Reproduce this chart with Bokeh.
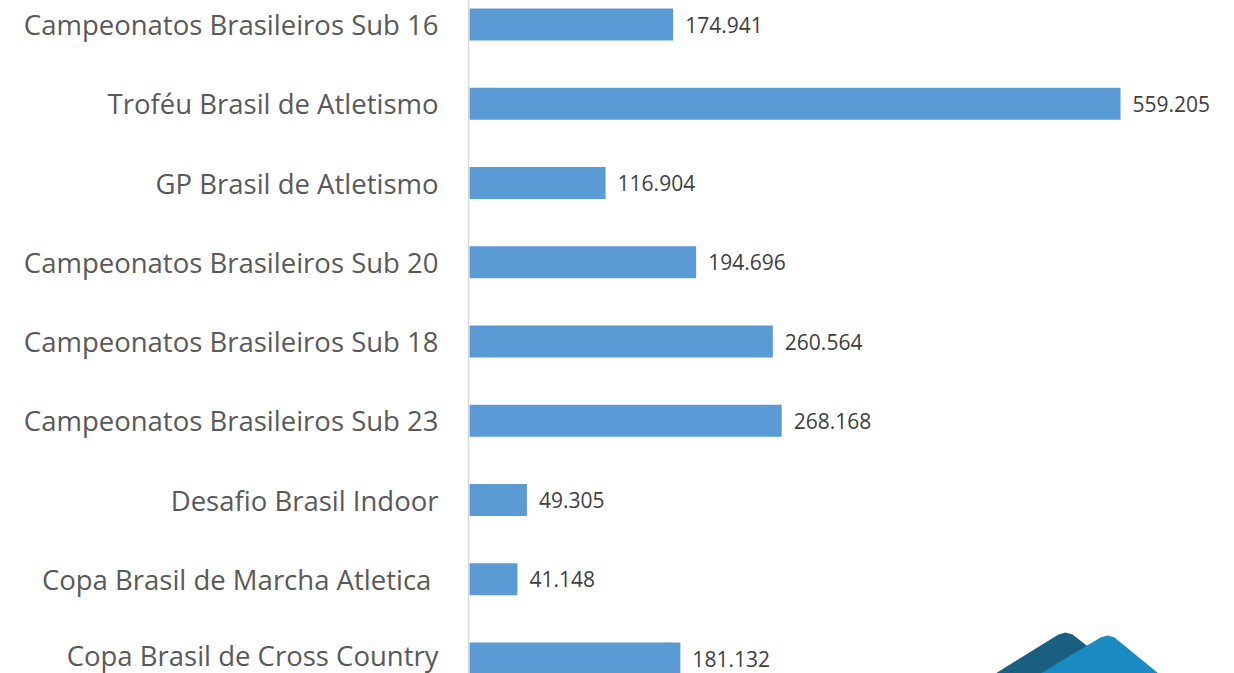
from bokeh.plotting import figure
from bokeh.models import Range1d, FixedTicker, ColumnDataSource, LinearAxis
from bokeh.embed import file_html
from bokeh.resources import INLINE
from bokeh.core.properties import value

# Data (top to bottom as in the chart)
categories = [
    "Campeonatos Brasileiros Sub 16",
    "Troféu Brasil de Atletismo",
    "GP Brasil de Atletismo",
    "Campeonatos Brasileiros Sub 20",
    "Campeonatos Brasileiros Sub 18",
    "Campeonatos Brasileiros Sub 23",
    "Desafio Brasil Indoor",
    "Copa Brasil de Marcha Atletica ",
    "Copa Brasil de Cross Country",
]
values = [174.941, 559.205, 116.904, 194.696, 260.564, 268.168, 49.305, 41.148, 181.132]
value_labels = ["174.941", "559.205", "116.904", "194.696", "260.564", "268.168", "49.305", "41.148", "181.132"]

W, H = 1234, 673
FRAME_LEFT = 468          # px inside figure where the axis line sits
PX_PER_UNIT_X = 1.1642
PX_PER_ROW = 79.25
TOP_CENTER = 24

n = len(categories)
ypos = [n - 1 - i for i in range(n)]

frame_w = W - FRAME_LEFT
x_start = -1 / PX_PER_UNIT_X
x_end = x_start + frame_w / PX_PER_UNIT_X
y_end = (n - 1) + TOP_CENTER / PX_PER_ROW
y_start = y_end - H / PX_PER_ROW

p = figure(width=W, height=H, output_backend="svg", toolbar_location=None,
           x_range=Range1d(x_start, x_end), y_range=Range1d(y_start, y_end),
           min_border_left=FRAME_LEFT, min_border_right=0, min_border_top=0,
           min_border_bottom=0, x_axis_location=None, y_axis_location=None)
p.outline_line_color = None
p.xgrid.visible = False
p.ygrid.visible = False
p.background_fill_color = "white"
p.border_fill_color = "white"

src = ColumnDataSource(dict(y=ypos, v=values, lab=value_labels, cat=categories))
p.hbar(y="y", right="v", left=0, height=32 / PX_PER_ROW, source=src,
       fill_color="#5B9BD5", line_color=None)

p.text(x="v", y="y", text="lab", source=src, x_offset=12,
       text_baseline="middle", text_align="left",
       text_font=value("Open Sans"), text_font_size="21px", text_color="#404040")

yaxis = LinearAxis(ticker=FixedTicker(ticks=ypos),
                   major_label_overrides={y: c for y, c in zip(ypos, categories)})
yaxis.axis_line_color = "#D9D9D9"
yaxis.axis_line_width = 1.5
yaxis.major_tick_line_color = None
yaxis.minor_tick_line_color = None
yaxis.major_tick_in = 0
yaxis.major_tick_out = 0
yaxis.major_label_standoff = 30
yaxis.major_label_text_font = "Open Sans"
yaxis.major_label_text_font_size = "27.5px"
yaxis.major_label_text_color = "#595959"
p.add_layout(yaxis, "left")

# Decorative logo (two mountains) in the lower-right corner, defined in pixels
def px_to_data(px, py):
    xs = [x_start + (a - FRAME_LEFT) / PX_PER_UNIT_X for a in px]
    ys = [y_end - b / PX_PER_ROW for b in py]
    return xs, ys

logo_dark = ([995, 1058, 1065, 1072, 1090, 1045], [673, 634, 632, 634, 648, 673])
logo_light = ([1040, 1100, 1107, 1114, 1158], [673, 637, 635, 637, 673])
dx, dy = px_to_data(*logo_dark)
lx, ly = px_to_data(*logo_light)
p.patch(dx, dy, fill_color="#1B5F80", line_color=None)
p.patch(lx, ly, fill_color="#1A8AC2", line_color=None)

open("out.html", "w").write(file_html(p, INLINE))
